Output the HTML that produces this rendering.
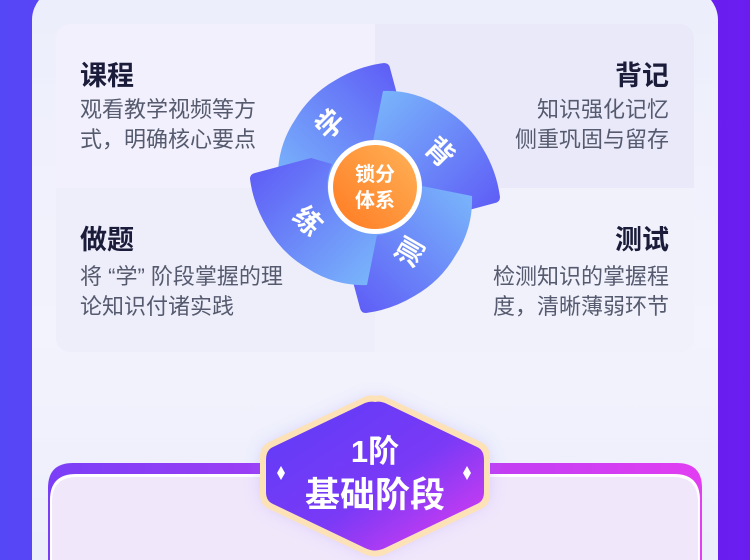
<!DOCTYPE html>
<html><head><meta charset="utf-8"><style>
html,body{margin:0;width:750px;height:560px;overflow:hidden}
body{background:linear-gradient(90deg,#5647f6,#6a1def);font-family:"Liberation Sans","Noto Sans CJK SC",sans-serif;position:relative}
.panel{position:absolute;left:32px;top:-12px;width:686px;height:572px;border-radius:32px 32px 0 0;background:linear-gradient(180deg,#eceefb,#f3f3fd 60%,#eceefb)}
.card{position:absolute;left:56px;top:24px;width:638px;height:328px;border-radius:14px;background:#ececfa;overflow:hidden}
.q{position:absolute;width:319px;height:164px}
.t{position:absolute;font-size:27px;font-weight:bold;color:#1a1c3a}
.d{position:absolute;font-size:22px;line-height:30px;color:#555a6e}
.r{text-align:right}
</style></head><body>
<div class="panel"></div>
<div class="card">
 <div class="q" style="left:0;top:0;background:#f1f0fc"></div>
 <div class="q" style="left:319px;top:0;background:#e9e9fa"></div>
 <div class="q" style="left:0;top:164px;background:#eeeefb"></div>
 <div class="q" style="left:319px;top:164px;background:#f1f1fc"></div>
</div>
<div class="t" style="left:80px;top:54px">课程</div>
<div class="d" style="left:80px;top:95px">观看教学视频等方<br>式，明确核心要点</div>
<div class="t r" style="right:81px;top:54px">背记</div>
<div class="d r" style="right:81px;top:95px">知识强化记忆<br>侧重巩固与留存</div>
<div class="t" style="left:80px;top:218px">做题</div>
<div class="d" style="left:80px;top:262px">将 “学” 阶段掌握的理<br>论知识付诸实践</div>
<div class="t r" style="right:81px;top:218px">测试</div>
<div class="d r" style="right:81px;top:262px">检测知识的掌握程<br>度，清晰薄弱环节</div>

<svg style="position:absolute;left:0;top:0" width="750" height="560">
<defs>
<linearGradient id="ring" x1="0" y1="0" x2="1" y2="1"><stop offset="0" stop-color="#80c0fc"/><stop offset="1" stop-color="#6d8ffa"/></linearGradient>
<linearGradient id="seg" x1="0" y1="1" x2="1" y2="0"><stop offset="0" stop-color="#7ab8fb"/><stop offset="1" stop-color="#5d58f6"/></linearGradient>
<linearGradient id="org" x1="1" y1="0" x2="0" y2="1"><stop offset="0" stop-color="#ffb257"/><stop offset="1" stop-color="#ff7a22"/></linearGradient>
<linearGradient id="hex" x1="0" y1="0" x2="1" y2="1"><stop offset="0" stop-color="#5d3cf8"/><stop offset="0.55" stop-color="#7a3af6"/><stop offset="1" stop-color="#e53cf0"/></linearGradient>
<linearGradient id="band" x1="0" y1="0" x2="1" y2="0"><stop offset="0" stop-color="#7a3ef6"/><stop offset="1" stop-color="#e23ef2"/></linearGradient>
<filter id="sh" x="-30%" y="-30%" width="160%" height="160%"><feGaussianBlur stdDeviation="10"/></filter>
<g id="s"><path d="M278,180 A100 100 0 0 1 294.6,120.5 A110 110 0 0 1 335.7,80 A125 125 0 0 1 384,63 Q389,63 390,68 L405,124 L399,145 A50 50 0 0 0 328,190 Z" fill="url(#seg)"/></g>
</defs>
<circle cx="375" cy="188" r="98" fill="url(#ring)"/>
<use href="#s"/>
<use href="#s" transform="rotate(90 375 188)"/>
<use href="#s" transform="rotate(180 375 188)"/>
<use href="#s" transform="rotate(270 375 188)"/>
<circle cx="375" cy="187" r="47" fill="#fff"/>
<circle cx="375" cy="187" r="42" fill="url(#org)"/>
<g fill="#fff" font-weight="bold" font-size="28" text-anchor="middle" font-family="Liberation Sans,Noto Sans CJK SC,sans-serif">
<text transform="translate(330,124) rotate(-45)" y="10">学</text>
<text transform="translate(440,152) rotate(45)" y="10">背</text>
<text transform="translate(410,252) rotate(-60)" y="10">测</text>
<text transform="translate(308,221) rotate(45)" y="10">练</text>
<text x="375" y="181" font-size="20">锁分</text>
<text x="375" y="207" font-size="20">体系</text>
</g>
<path d="M48,560 V488 Q48,463 73,463 H677 Q702,463 702,488 V560 Z" fill="url(#band)"/>
<path d="M50,560 V500 Q50,474 76,474 H674 Q700,474 700,500 V560 Z" fill="#fff"/>
<path d="M52,560 V502 Q52,477 77,477 H673 Q698,477 698,502 V560 Z" fill="#f1e7fb"/>
<path d="M375,400 L485,450 V500 L375,552 L265,500 V450 Z" fill="#8a7cf5" opacity="0.4" filter="url(#sh)"/>
<path d="M375,396 Q380,394 386,397 L481,442 Q490,446 490,458 V494 Q490,505 481,509 L386,554 Q375,559 364,554 L269,509 Q260,505 260,494 V458 Q260,446 269,442 L364,397 Q370,394 375,396 Z" fill="#fde2b8"/>
<path d="M375,402 Q380,401 385,403 L477,447 Q484,450 484,460 V492 Q484,501 477,504 L385,548 Q375,553 365,548 L273,504 Q266,501 266,492 V460 Q266,450 273,447 L365,403 Q370,401 375,402 Z" fill="url(#hex)"/>
<path d="M281,466 L285,473 L281,480 L277,473 Z M467,466 L471,473 L467,480 L463,473 Z" fill="#fff"/>
<g fill="#fff" font-weight="bold" text-anchor="middle" font-family="Liberation Sans,Noto Sans CJK SC,sans-serif">
<text x="375" y="462" font-size="31">1阶</text>
<text x="375" y="507" font-size="35">基础阶段</text>
</g>
</svg>
</body></html>
